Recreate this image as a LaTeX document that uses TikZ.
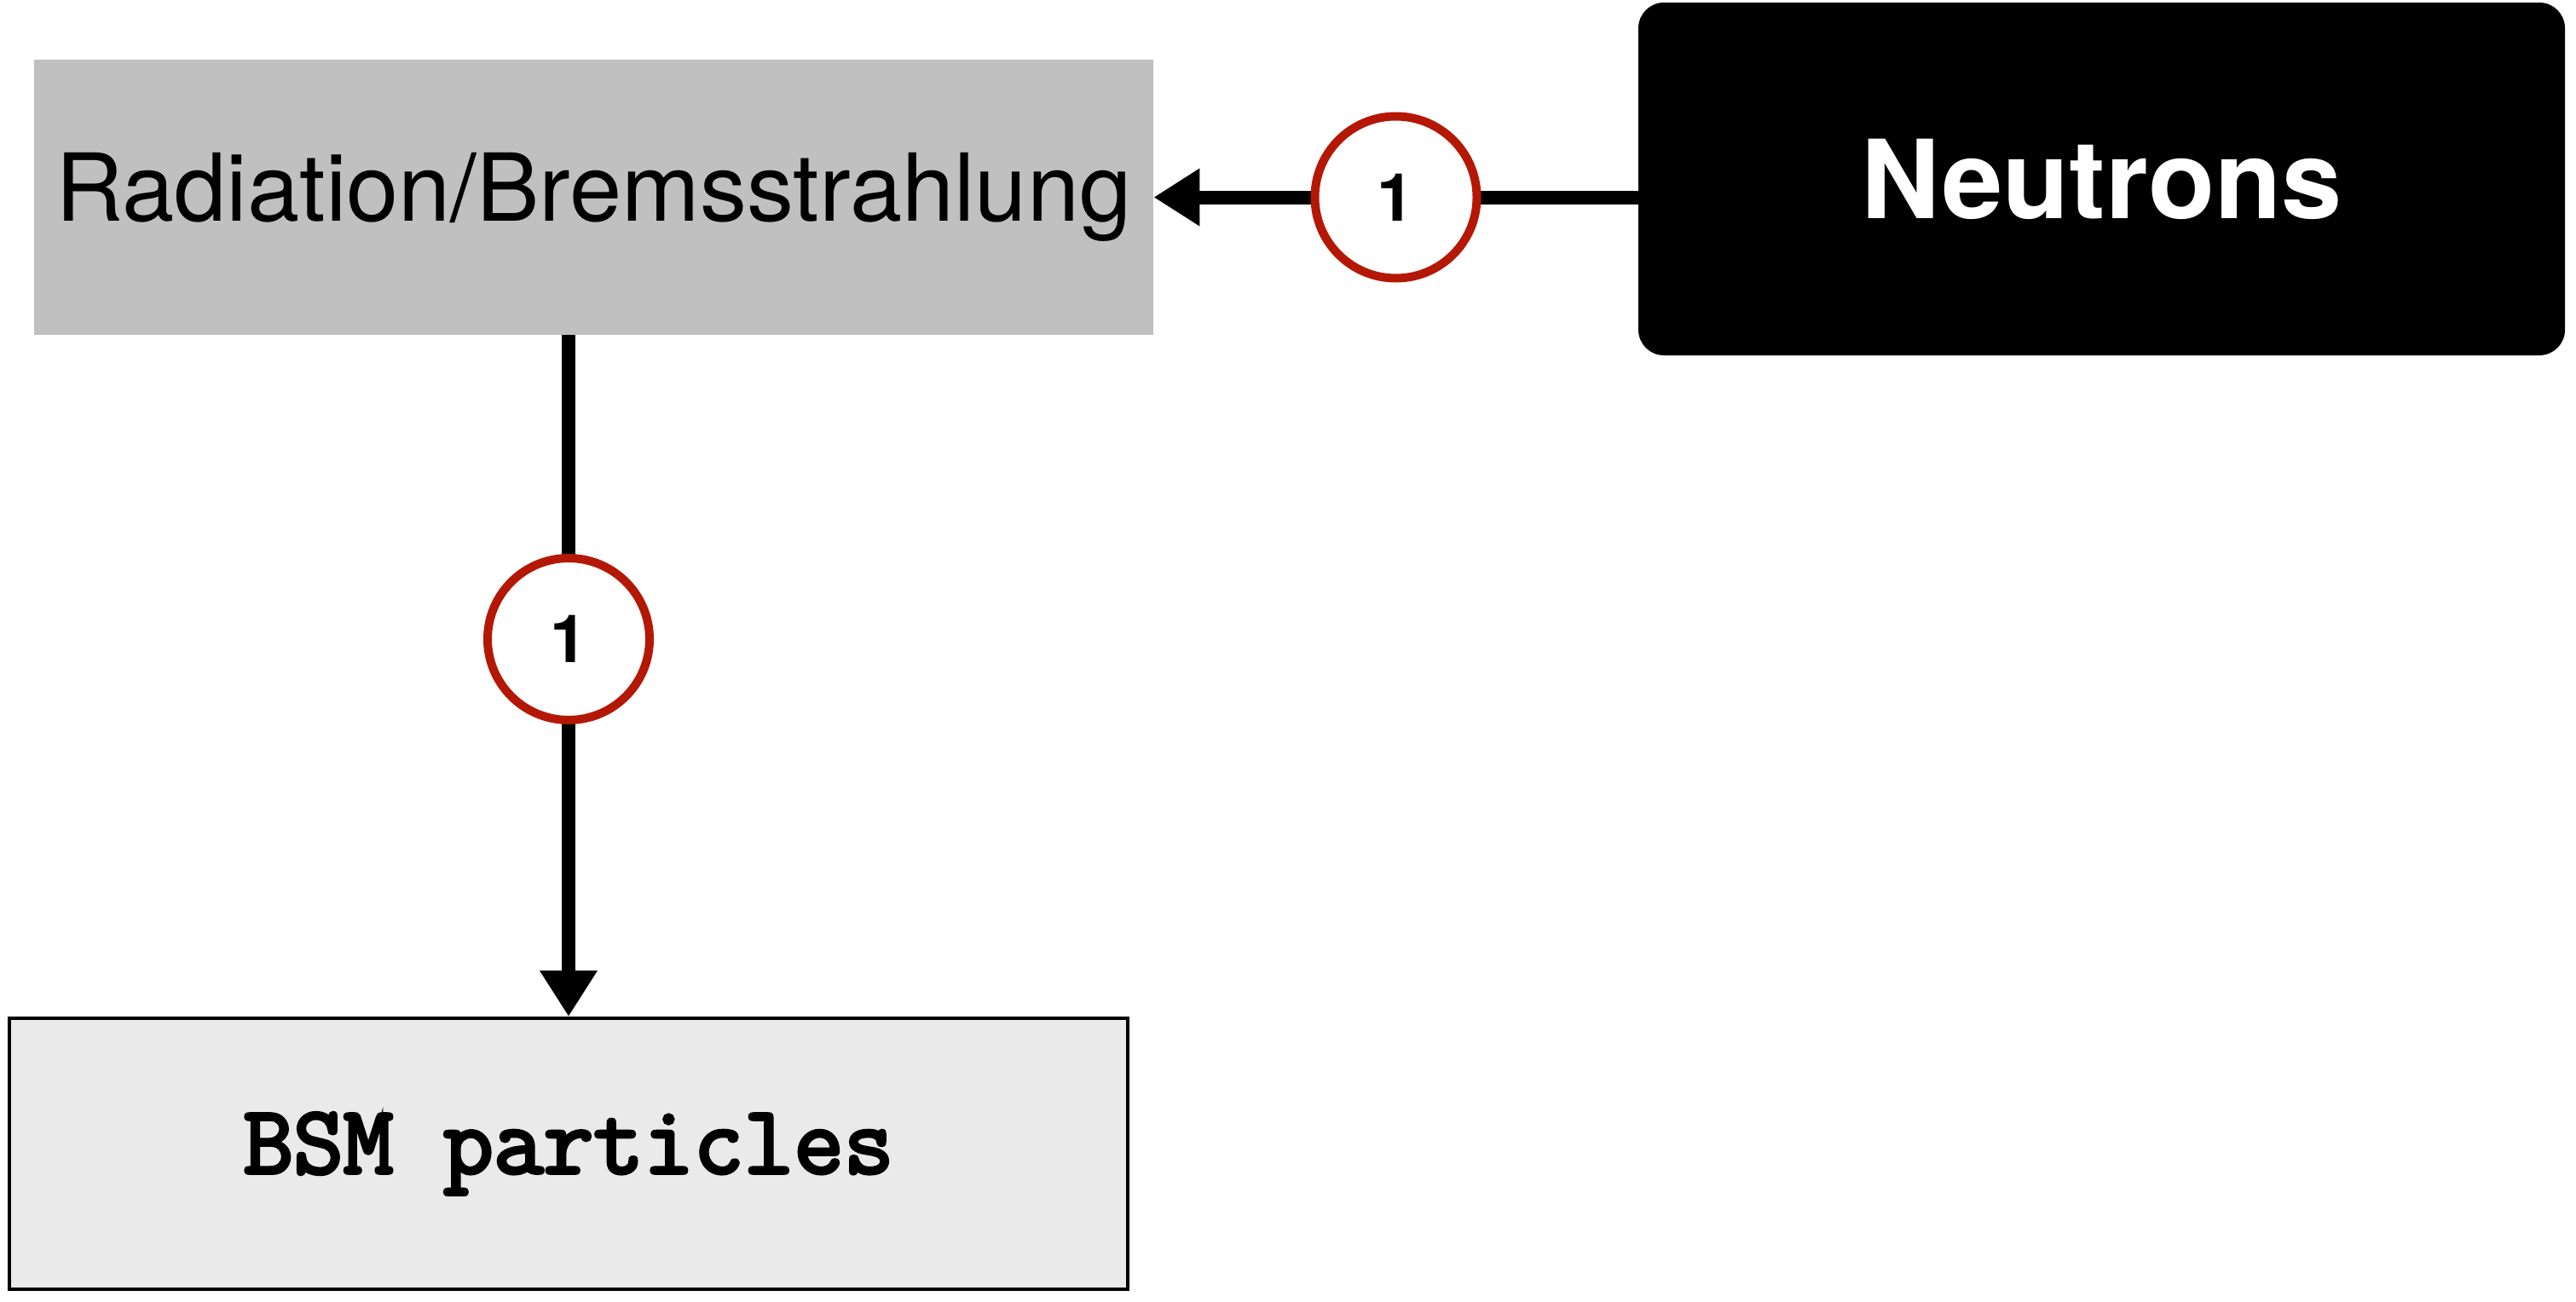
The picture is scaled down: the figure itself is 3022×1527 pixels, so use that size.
\documentclass[tikz,border=0pt]{standalone}
\usepackage{fontspec}
\setmainfont{TeX Gyre Heros}
\newfontfamily\monoheavy[FakeBold=3.5]{Latin Modern Mono}
\usetikzlibrary{arrows.meta}
\definecolor{boxgray}{RGB}{192,192,192}
\definecolor{lightbox}{RGB}{234,234,234}
\definecolor{badgered}{RGB}{180,24,4}
\tikzset{
  radbox/.style={fill=boxgray, draw=none, minimum width=656.5pt, minimum height=161.5pt, inner sep=0pt,
     font=\fontsize{55}{61}\selectfont},
  neubox/.style={fill=black, draw=none, rounded corners=15pt, minimum width=543.5pt, minimum height=207pt, inner sep=0pt,
     text=white, font=\fontsize{64}{70}\selectfont\bfseries},
  bsmbox/.style={fill=lightbox, draw=black, line width=2pt, minimum width=656pt, minimum height=159pt, inner sep=0pt,
     font=\monoheavy\fontsize{57}{62}\selectfont},
  badge/.style={circle, draw=badgered, fill=white, line width=5pt, minimum size=95pt, inner sep=0pt,
     font=\fontsize{39}{42}\selectfont\bfseries},
  conn/.style={line width=8pt, draw=black},
  tip/.style={-{Triangle[length=27pt,width=32pt]}}
}
\begin{document}
\begin{tikzpicture}[x=0.5pt,y=-0.5pt]
\useasboundingbox (0,0) rectangle (3022,1527);
\node[radbox] (rad) at (696.5,231.5) {Radiation/Bremsstrahlung};
\node[neubox] (neu) at (2465.5,210) {Neutrons};
\node[bsmbox] (bsm) at (667,1354) {BSM particles};
\coordinate (hstart) at (rad.east -| neu.west);
\coordinate (vstart) at (rad.south -| bsm.north);
\draw[conn,tip] (hstart) -- node[badge, pos=0.5] (b1) {1} (rad.east);
\draw[conn,tip] (vstart) -- node[badge, pos=0.446] (b2) {1} (bsm.north);
\end{tikzpicture}
\end{document}
